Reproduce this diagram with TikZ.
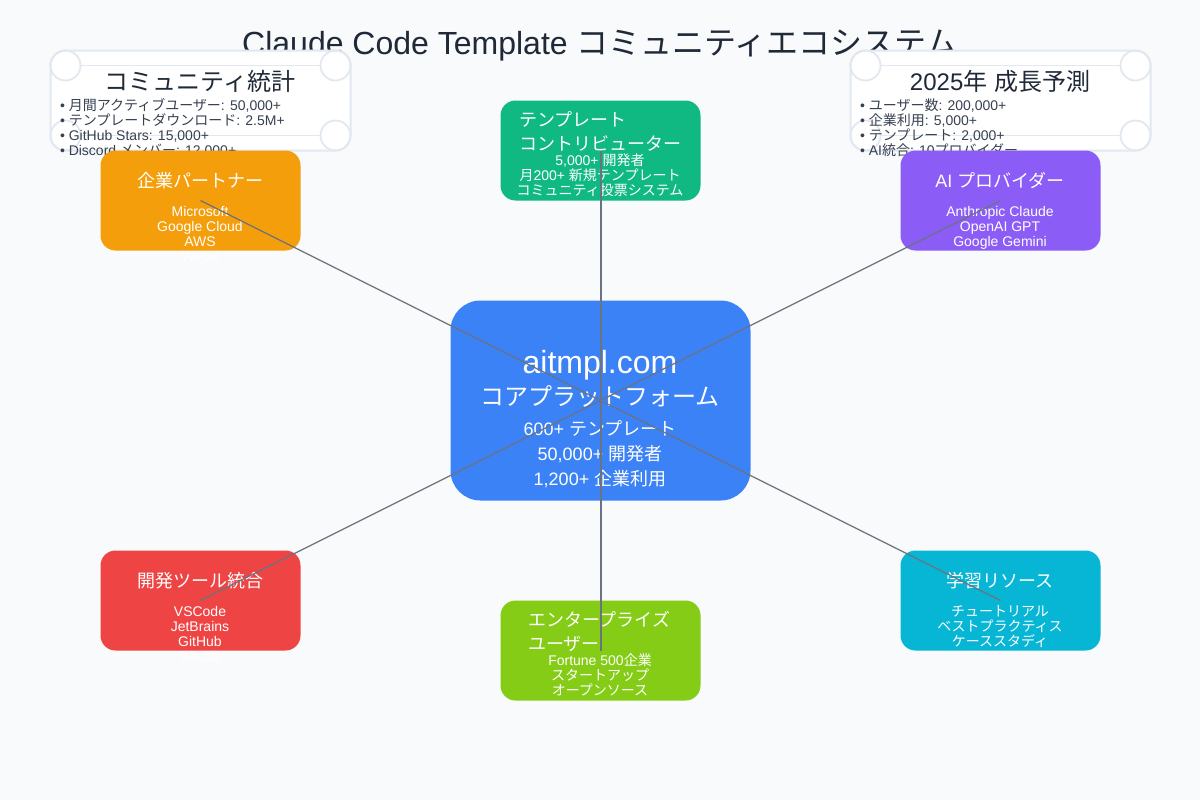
\documentclass[tikz,border=0pt]{standalone}
\usepackage{fontspec}
\setmainfont{Noto Sans CJK JP}
\newfontfamily\lat{Liberation Sans}
\definecolor{bgc}{HTML}{F8FAFC}
\definecolor{dark}{HTML}{1F2937}
\definecolor{darkb}{HTML}{374151}
\definecolor{edge}{HTML}{E2E8F0}
\definecolor{conn}{HTML}{6B7280}
\definecolor{cblue}{HTML}{3B82F6}
\definecolor{cgreen}{HTML}{10B981}
\definecolor{camber}{HTML}{F59E0B}
\definecolor{cviolet}{HTML}{8B5CF6}
\definecolor{cred}{HTML}{EF4444}
\definecolor{ccyan}{HTML}{06B6D4}
\definecolor{clime}{HTML}{84CC16}
\newcommand{\F}[1]{\fontsize{\dimexpr#1pt*1/2\relax}{\dimexpr#1pt*1/2\relax}\selectfont}
\newcommand{\La}[1]{{\lat #1}}
\tikzset{x=0.5pt,y=-0.5pt,
  card/.style={rectangle,rounded corners=7.5pt,minimum width=100pt,minimum height=50pt,inner sep=0pt,outer sep=0pt},
  core/.style={rectangle,rounded corners=15pt,minimum width=150pt,minimum height=100pt,inner sep=0pt,outer sep=0pt,fill=cblue},
  txt/.style={inner sep=0pt,outer sep=0pt,anchor=base,text=white,font=\F{14}},
  head/.style={inner sep=0pt,outer sep=0pt,anchor=base,text=white,font=\F{18}},
  headl/.style={head,anchor=base west},
  stat/.style={inner sep=0pt,outer sep=0pt,anchor=base west,text=darkb,font=\F{14}},
  phead/.style={inner sep=0pt,outer sep=0pt,anchor=base,text=dark,font=\F{24}},
  panel/.style={rectangle,rounded corners=7.5pt,minimum width=150pt,minimum height=50pt,inner sep=0pt,outer sep=0pt,fill=white,draw=edge,line width=1pt},
  ring/.style={draw=edge,line width=0.9pt},
  link/.style={draw=conn,line width=1pt},
  linkd/.style={draw=conn,line width=0.6pt},
}
\begin{document}
\begin{tikzpicture}
\useasboundingbox (0,0) rectangle (1200,800);
\fill[bgc] (0,0) rectangle (1200,800);
\node[phead,text=dark,font=\F{32}] (title) at (600,54.5) {\La{Claude Code Template }コミュニティエコシステム};

% panels
\node[panel] (pl) at (200.5,100.5) {};
\node[panel] (pr) at (1000.5,100.5) {};
\foreach \c in {200.5,1000.5}{
  \foreach \dx in {-135,135}{
    \foreach \yy in {65.5,135.5}{
      \draw[ring] (\c+\dx,\yy) circle[radius=7.5pt];
    }
  }
  \draw[ring] (\c-120,65.5) -- (\c+120,65.5);
  \draw[ring] (\c-120,135.5) -- (\c+120,135.5);
}
\node[phead] (plh) at (200,90) {コミュニティ統計};
\node[stat] (pl1) at (60,110) {\La{• }月間アクティブユーザー\La{: 50,000+}};
\node[stat] (pl2) at (60,125) {\La{• }テンプレートダウンロード\La{: 2.5M+}};
\node[stat] (pl3) at (60,140) {\La{• GitHub Stars: 15,000+}};
\node[stat] (pl4) at (60,155) {\La{• Discord }メンバー\La{: 12,000+}};
\node[phead] (prh) at (1000,90) {\La{2025}年\La{ }成長予測};
\node[stat] (pr1) at (860,110) {\La{• }ユーザー数\La{: 200,000+}};
\node[stat] (pr2) at (860,125) {\La{• }企業利用\La{: 5,000+}};
\node[stat] (pr3) at (860,140) {\La{• }テンプレート\La{: 2,000+}};
\node[stat] (pr4) at (860,155) {\La{• AI}統合\La{: 10}プロバイダー};

% core
\node[core] (hub) at (600.5,400.5) {};
\node[txt,font=\F{32}] (h1) at (600,373) {\La{aitmpl.com}};
\node[txt,font=\F{24}] (h2) at (600,405) {コアプラットフォーム};
\node[txt,font=\F{18}] (h3) at (600,435) {\La{600+ }テンプレート};
\node[txt,font=\F{18}] (h4) at (600,460) {\La{50,000+ }開発者};
\node[txt,font=\F{18}] (h5) at (600,485) {\La{1,200+ }企業利用};

% green
\node[card,fill=cgreen] (gr) at (600.5,150.5) {};
\node[headl] (gr1) at (519,126) {テンプレート};
\node[headl] (gr2) at (519,150) {コントリビューター};
\node[txt] (gr3) at (600,165) {\La{5,000+ }開発者};
\node[txt] (gr4) at (600,180) {月\La{200+ }新規テンプレート};
\node[txt] (gr5) at (600,195) {コミュニティ投票システム};

% amber
\node[card,fill=camber] (am) at (200.5,200.5) {};
\node[head] (am1) at (200,187.5) {企業パートナー};
\node[txt] (am2) at (200,216) {\La{Microsoft}};
\node[txt] (am3) at (200,231) {\La{Google Cloud}};
\node[txt] (am4) at (200,246) {\La{AWS}};
\node[txt] (am5) at (200,261) {\La{Vercel}};

% violet
\node[card,fill=cviolet] (vi) at (1000.5,200.5) {};
\node[head] (vi1) at (1000,187.5) {\La{AI }プロバイダー};
\node[txt] (vi2) at (1000,216) {\La{Anthropic Claude}};
\node[txt] (vi3) at (1000,231) {\La{OpenAI GPT}};
\node[txt] (vi4) at (1000,246) {\La{Google Gemini}};

% red
\node[card,fill=cred] (re) at (200.5,600.5) {};
\node[head] (re1) at (200,587.5) {開発ツール統合};
\node[txt] (re2) at (200,616) {\La{VSCode}};
\node[txt] (re3) at (200,631) {\La{JetBrains}};
\node[txt] (re4) at (200,646) {\La{GitHub}};
\node[txt] (re5) at (200,661) {\La{GitLab}};

% lime
\node[card,fill=clime] (li) at (600.5,650.5) {};
\node[headl] (li1) at (528,626) {エンタープライズ};
\node[headl] (li2) at (528,650) {ユーザー};
\node[txt] (li3) at (600,665) {\La{Fortune 500}企業};
\node[txt] (li4) at (600,680) {スタートアップ};
\node[txt] (li5) at (600,695) {オープンソース};

% cyan
\node[card,fill=ccyan] (cy) at (1000.5,600.5) {};
\node[head] (cy1) at (1000,587.5) {学習リソース};
\node[txt] (cy2) at (1000,616) {チュートリアル};
\node[txt] (cy3) at (1000,631) {ベストプラクティス};
\node[txt] (cy4) at (1000,646) {ケーススタディ};

% connectors
\draw[link] (hub.center) -- (gr.center);
\draw[link] (hub.center) -- (li.center);
\draw[linkd] (hub.center) -- (am.center);
\draw[linkd] (hub.center) -- (vi.center);
\draw[linkd] (hub.center) -- (re.center);
\draw[linkd] (hub.center) -- (cy.center);
\end{tikzpicture}
\end{document}
